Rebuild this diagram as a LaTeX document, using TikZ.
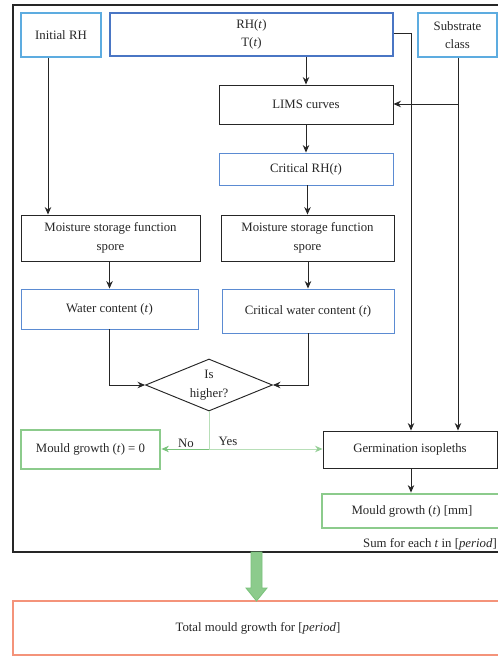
\documentclass[tikz,border=0pt]{standalone}
\usepackage{fontspec}
\setmainfont{Liberation Serif}
\usetikzlibrary{shapes.geometric,arrows.meta,calc}
\definecolor{skyblue}{HTML}{5DACE0}
\definecolor{midblue}{HTML}{4A76C4}
\definecolor{thinblue}{HTML}{5B8BD2}
\definecolor{mgreen}{HTML}{8CCB8C}
\definecolor{dgreen}{HTML}{79C27B}
\definecolor{lgreen}{HTML}{B8DFB8}
\definecolor{coral}{HTML}{F4937A}
\definecolor{ink}{HTML}{262626}
\tikzset{
  every node/.style={font=\fontsize{12.8}{18.5}\selectfont, text=ink, align=center, inner sep=0pt},
  box/.style={draw=ink, line width=0.95pt, rectangle},
  inbox/.style={draw=skyblue, line width=1.6pt, rectangle},
  tbox/.style={draw=midblue, line width=1.6pt, rectangle},
  critbox/.style={draw=thinblue, line width=0.9pt, rectangle},
  greenbox/.style={draw=mgreen, line width=2.8pt, rectangle},
  totalbox/.style={draw=coral, line width=2.8pt, rectangle},
  decision/.style={draw=ink, line width=0.95pt, diamond, aspect=2.4},
  arr/.style={draw=ink, line width=0.9pt, -{Stealth[length=7.5pt,width=6.5pt]}},
  noarr/.style={draw=dgreen, line width=0.9pt, -{Stealth[length=7.5pt,width=6.5pt]}},
  yesarr/.style={draw=lgreen, line width=0.9pt, -{Stealth[length=7.5pt,width=6.5pt,color=dgreen!80]}},
}
\begin{document}
\begin{tikzpicture}[x=1pt,y=-1pt]
\useasboundingbox (0,0) rectangle (498,657);

% outer frame of the per-time-step loop
\draw[ink, line width=2pt] (505,5) -- (13,5) -- (13,552) -- (505,552);

% inputs
\node[inbox, minimum width=80pt, minimum height=44pt] (irh) at (61,35) {Initial RH};
\node[tbox, minimum width=283pt, minimum height=43pt] (rht) at (251.5,34.5) {RH(\textit{t})\\T(\textit{t})};
\node[inbox, minimum width=79pt, minimum height=44pt] (sub) at (457.5,35) {Substrate\\class};

% critical branch
\node[box, minimum width=174pt, minimum height=39pt] (lims) at (306,104.5) {LIMS curves};
\node[critbox, minimum width=174pt, minimum height=32pt] (crh) at (306,169) {Critical RH(\textit{t})};

% moisture storage
\node[box, minimum width=179pt, minimum height=46pt] (msf1) at (110.5,238) {Moisture storage function\\spore};
\node[box, minimum width=173pt, minimum height=46pt] (msf2) at (307.5,238) {Moisture storage function\\spore};
\node[critbox, minimum width=177pt, minimum height=40pt] (wc) at (109.5,309) {Water content (\textit{t})};
\node[critbox, minimum width=172pt, minimum height=44pt] (cwc) at (308,311) {Critical water content (\textit{t})};

% decision
\node[decision, minimum width=127pt, minimum height=52pt] (dia) at (209,385) {};
\node (dialbl) at (dia.center) {Is\\higher?};

% outcomes
\node[greenbox, minimum width=139pt, minimum height=39pt] (mg0) at (90.5,449.5) {Mould growth (\textit{t}) = 0};
\node[box, minimum width=174pt, minimum height=37pt] (germ) at (410,449.5) {Germination isopleths};
\node[greenbox, minimum width=180pt, minimum height=34pt] (mgmm) at (412,511) {Mould growth (\textit{t}) [mm]};
\node[anchor=east] (sumlbl) at (497,544) {Sum for each \textit{t} in [\textit{period}]};

\node[totalbox, minimum width=490pt, minimum height=54pt] (tot) at (258,628) {Total mould growth for [\textit{period}]};

% helper coordinates for routed connectors
\coordinate (cx48) at (48,0);
\coordinate (cx411) at (411,0);
\coordinate (cx458) at (458,0);
\coordinate (cy104) at (0,104);
\coordinate (cy33) at (0,33);
\coordinate (split) at (209,449);

% connectors
\draw[arr] (irh.south -| cx48) -- (msf1.north -| cx48);
\draw[arr] (rht.south -| lims.north) -- (lims.north);
\draw[arr] (lims.south) -- (crh.north);
\draw[arr] (crh.south -| msf2.north) -- (msf2.north);
\draw[arr] (msf1.south -| wc.north) -- (wc.north);
\draw[arr] (msf2.south -| cwc.north) -- (cwc.north);
\draw[arr] (wc.south) |- (dia.west);
\draw[arr] (cwc.south) |- (dia.east);

\draw[arr] (sub.south -| cx458) -- (germ.north -| cx458);
\draw[arr] (cx458 |- cy104) -- (lims.east |- cy104);
\draw[arr] (rht.east |- cy33) -| (germ.north -| cx411);

\draw[lgreen, line width=0.9pt] (dia.south) -- (split);
\draw[noarr] (split) -- (mg0.east |- split);
\draw[yesarr] (split) -- (germ.west |- split);
\node[anchor=south] (nolbl) at (186,448) {No};
\node[anchor=south] (yeslbl) at (228,446) {Yes};

\draw[arr] (germ.south -| cx411) -- (mgmm.north -| cx411);

% summation arrow into the total
\filldraw[fill=mgreen, draw=dgreen, line width=0.8pt]
  (251,552) -- (262,552) -- (262,588) -- (267,588) -- (256.5,601)
  -- (246,588) -- (251,588) -- cycle;
\end{tikzpicture}
\end{document}
